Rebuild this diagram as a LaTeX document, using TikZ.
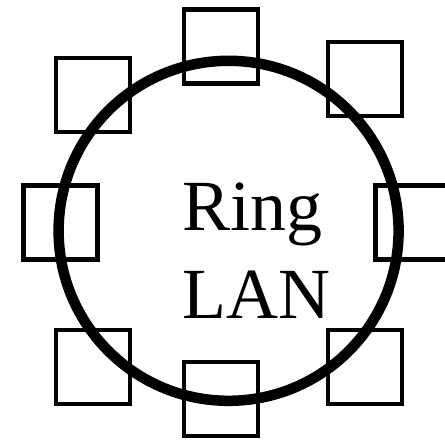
\documentclass[tikz,border=0pt]{standalone}
\usepackage{fontspec}
\setmainfont{Liberation Serif}
\usepackage{tikz}
\usetikzlibrary{positioning}

\begin{document}
\begin{tikzpicture}[x=1pt, y=-1pt,
  station/.style={draw, line width=4.7pt, minimum size=74pt, inner sep=0pt},
  ringline/.style={line width=10.5pt}]
\useasboundingbox (0,0) rectangle (445,440);
% stations round the ring
\foreach \n/\x/\y in {n/221/46.7, ne/365/79, e/412.7/222.7, se/365/367,
                      s/221/399, sw/93/367, w/60.8/222.7, nw/93/95}
  \node[station] (\n) at (\x,\y) {};
% the ring
\draw[ringline] (228.6,230.8) circle[radius=170];
\node[anchor=base west, align=left, inner sep=0pt, font=\fontsize{72}{88}\selectfont]
  (label) at (182,318) {Ring\\LAN};
\end{tikzpicture}
\end{document}
